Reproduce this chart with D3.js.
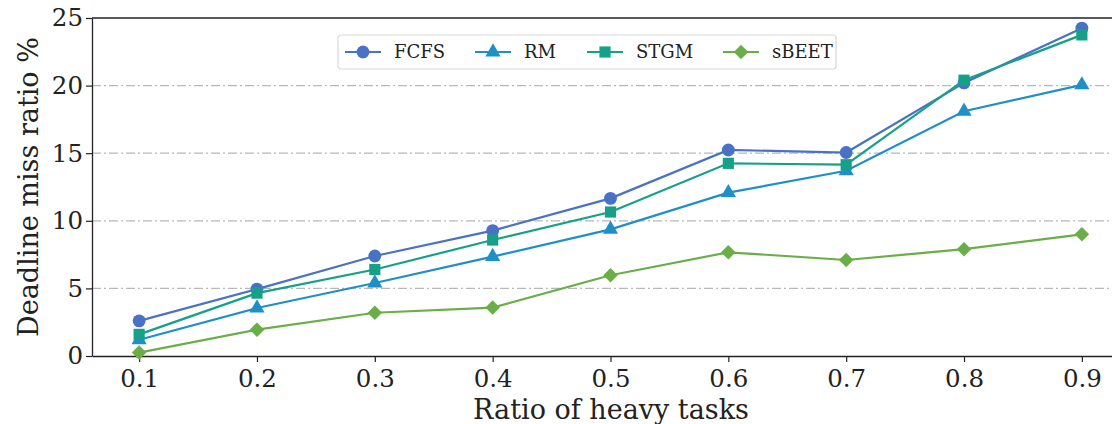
<!DOCTYPE html>
<html>
<head>
<meta charset="utf-8">
<script src="https://cdn.jsdelivr.net/npm/d3@7"></script>
<style>
  body { margin: 0; background: #fff; }
  svg { display: block; font-family: "DejaVu Serif", serif; }
</style>
</head>
<body>
<div id="chart"></div>
<script>
// Data
const ratios = [0.1, 0.2, 0.3, 0.4, 0.5, 0.6, 0.7, 0.8, 0.9]
const fcfs  = [2.6, 4.95, 7.4, 9.27, 11.66, 15.24, 15.05, 20.2, 24.25]
const rm    = [1.2, 3.55, 5.4, 7.35, 9.37, 12.08, 13.7, 18.1, 20.05]
const stgm  = [1.6, 4.65, 6.4, 8.58, 10.65, 14.25, 14.15, 20.4, 23.75]
const sbeet = [0.25, 1.95, 3.2, 3.58, 5.97, 7.67, 7.1, 7.9, 9.0]
const seriesNames = ['FCFS', 'RM', 'STGM', 'sBEET']
const yTicks = [0, 5, 10, 15, 20, 25]

// matplotlib 'D' marker = square turned 45deg
const symbols = [d3.symbolCircle, d3.symbolTriangle, d3.symbolSquare, d3.symbolSquare]
const series = [
  { name: 'FCFS', values: fcfs, color: '#4a72c4', symbol: symbols[0], size: 130, rot: 0 },
  { name: 'RM', values: rm, color: '#1f8fc8', symbol: symbols[1], size: 100, rot: 0 },
  { name: 'STGM', values: stgm, color: '#16a088', symbol: symbols[2], size: 125, rot: 0 },
  { name: 'sBEET', values: sbeet, color: '#6aae48', symbol: symbols[3], size: 105, rot: 45 },
]

// Dimensions
let dimensions = {
  width: 1112,
  height: 424,
  margins: { top: 18, left: 92, bottom: 68, right: -17 },
}
dimensions.ctrWidth = dimensions.width - dimensions.margins.left - dimensions.margins.right
dimensions.ctrHeight = dimensions.height - dimensions.margins.top - dimensions.margins.bottom

const svg = d3.select('#chart')
  .append('svg')
  .attr('width', dimensions.width)
  .attr('height', dimensions.height)

const ctr = svg.append('g')
  .attr('transform', `translate(${dimensions.margins.left}, ${dimensions.margins.top})`)

// Scales
const xScale = d3.scaleLinear()
  .domain([0.06, 0.94])
  .range([0, dimensions.ctrWidth])
const yScale = d3.scaleLinear()
  .domain([0, 25])
  .range([dimensions.ctrHeight, 0])

// grid (dash-dot)
ctr.append('g')
  .selectAll('line')
  .data(yTicks.filter(t => t > 0 && t < 25))
  .join('line')
  .attr('x1', 0)
  .attr('x2', dimensions.ctrWidth)
  .attr('y1', d => yScale(d))
  .attr('y2', d => yScale(d))
  .attr('stroke', '#b8b8b8')
  .attr('stroke-width', 1.2)
  .attr('stroke-dasharray', '9,3,2,3')

// Axes
const xAxis = d3.axisBottom(xScale)
  .tickValues(ratios)
  .tickFormat(d3.format('.1f'))
  .tickSize(6)
  .tickSizeOuter(0)
const xAxisGroup = ctr.append('g')
  .attr('transform', `translate(0, ${dimensions.ctrHeight})`)
  .call(xAxis)

const yAxis = d3.axisLeft(yScale)
  .tickValues(yTicks)
  .tickSize(6)
  .tickSizeOuter(0)
const yAxisGroup = ctr.append('g').call(yAxis)

// top spine
ctr.append('line')
  .attr('x1', 0).attr('x2', dimensions.ctrWidth)
  .attr('y1', 0).attr('y2', 0)
  .attr('stroke', '#222').attr('stroke-width', 1.3)

svg.selectAll('.domain').attr('stroke', '#222').attr('stroke-width', 1.3)
svg.selectAll('.tick line').attr('stroke', '#222').attr('stroke-width', 1.2)
svg.selectAll('.tick text')
  .attr('font-family', '"DejaVu Serif", serif')
  .attr('font-size', 24.5)
  .attr('fill', '#222')
xAxisGroup.selectAll('.tick text').attr('dy', '0.9em')
yAxisGroup.selectAll('.tick text').attr('x', -9)

// Lines
const lineGen = d3.line()
  .x((d, i) => xScale(ratios[i]))
  .y(d => yScale(d))

series.forEach(s => {
  ctr.append('path')
    .datum(s.values)
    .attr('d', lineGen)
    .attr('fill', 'none')
    .attr('stroke', s.color)
    .attr('stroke-width', 2.2)
})
series.forEach(s => {
  ctr.append('g')
    .selectAll('path')
    .data(s.values)
    .join('path')
    .attr('transform', (d, i) => `translate(${xScale(ratios[i])}, ${yScale(d)}) rotate(${s.rot})`)
    .attr('d', d3.symbol().type(s.symbol).size(s.size))
    .attr('fill', s.color)
})

// Legend
const legend = ctr.append('g').attr('transform', 'translate(246, 17)')
legend.append('rect')
  .attr('width', 498)
  .attr('height', 34)
  .attr('rx', 3)
  .attr('fill', '#fff')
  .attr('stroke', '#d8d8d8')
  .attr('stroke-width', 1.2)
const legendX = [7, 137, 249, 385]
const items = legend.selectAll('g.item')
  .data(series)
  .join('g')
  .attr('class', 'item')
  .attr('transform', (d, i) => `translate(${legendX[i]}, 17)`)
items.append('line')
  .attr('x1', 0).attr('x2', 36)
  .attr('stroke', d => d.color)
  .attr('stroke-width', 2.2)
items.append('path')
  .attr('transform', d => `translate(18, 0) rotate(${d.rot})`)
  .attr('d', d => d3.symbol().type(d.symbol).size(d.size)())
  .attr('fill', d => d.color)
items.append('text')
  .attr('x', 49)
  .attr('dy', '0.35em')
  .attr('font-size', 18)
  .attr('fill', '#222')
  .text((d, i) => seriesNames[i])

// Axis labels
svg.append('text')
  .attr('x', 611)
  .attr('y', 419)
  .attr('text-anchor', 'middle')
  .attr('font-size', 27)
  .attr('fill', '#222')
  .text('Ratio of heavy tasks')
svg.append('text')
  .attr('transform', 'translate(38, 187) rotate(-90)')
  .attr('text-anchor', 'middle')
  .attr('font-size', 27)
  .attr('fill', '#222')
  .text('Deadline miss ratio %')
</script>
</body>
</html>
